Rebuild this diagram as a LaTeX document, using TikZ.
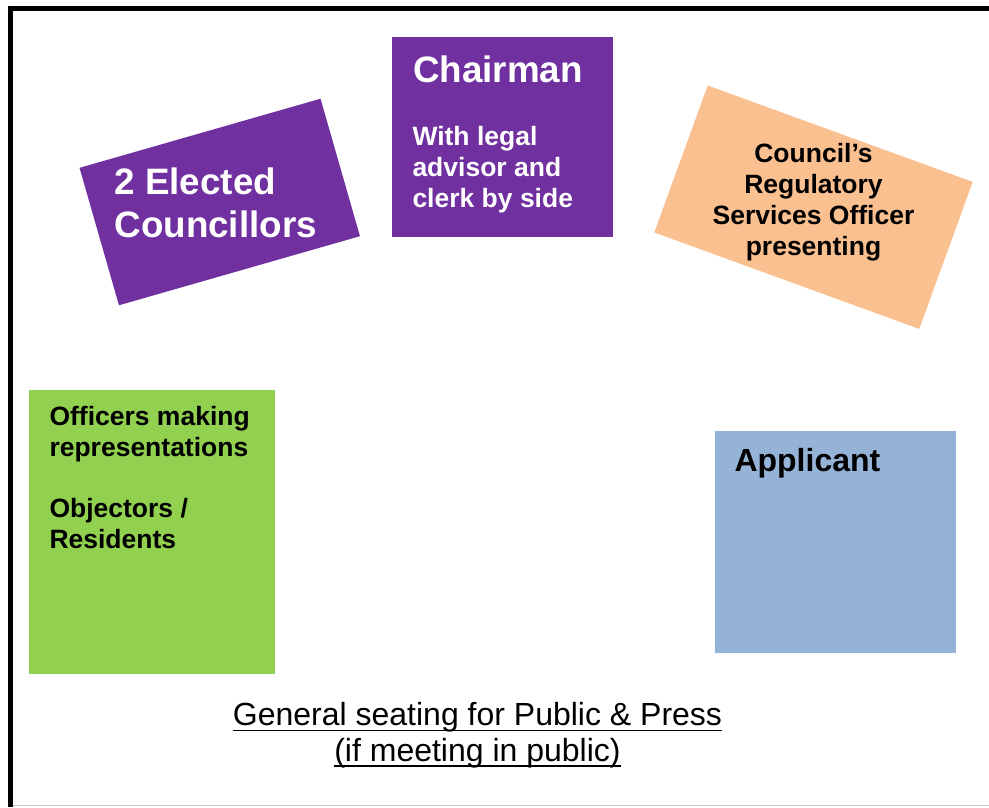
\documentclass[tikz,border=0pt]{standalone}
\usepackage{fontspec}
\setmainfont{Liberation Sans}
\definecolor{cpurple}{HTML}{7030A0}
\definecolor{corange}{HTML}{FAC090}
\definecolor{cgreen}{HTML}{92D050}
\definecolor{cblue}{HTML}{95B3D7}
\definecolor{cedge}{HTML}{C8C8C8}
\begin{document}
\begin{tikzpicture}[x=1pt,y=-1pt,
  seat/.style={inner sep=0pt, outer sep=0pt, draw=none},
  bigtxt/.style={inner sep=0pt, anchor=base west, font=\fontsize{36.8}{43}\selectfont\bfseries},
  midtxt/.style={inner sep=0pt, anchor=base west, font=\fontsize{26.5}{31}\selectfont\bfseries},
  midc/.style={inner sep=0pt, anchor=base, font=\fontsize{26.5}{31}\selectfont\bfseries},
  apptxt/.style={inner sep=0pt, anchor=base west, font=\fontsize{32}{38}\selectfont\bfseries},
  pubtxt/.style={inner sep=0pt, anchor=base, font=\fontsize{32}{38}\selectfont},
  uline/.style={line width=1.6pt}]
\useasboundingbox (0,0) rectangle (989,807);
% frame
\coordinate (fbl) at (10.7,807);
\coordinate (ftl) at (10.7,8.5);
\coordinate (ftr) at (989,8.5);
\coordinate (gbl) at (13,805.6);
\coordinate (gbr) at (989,805.6);
\draw[line width=5pt] (fbl) -- (ftl) -- (ftr);
\draw[cedge, line width=1.5pt] (gbl) -- (gbr);
% seats
\node[seat, fill=cpurple, minimum width=250.7pt, minimum height=143pt, rotate=16] (councillors) at (219.75,202) {};
\node[seat, fill=cpurple, minimum width=221pt, minimum height=200pt] (chair) at (502.5,137) {};
\node[seat, fill=corange, minimum width=282pt, minimum height=156.4pt, rotate=-20] (officer) at (813.5,207.2) {};
\node[seat, fill=cgreen, minimum width=246pt, minimum height=284pt] (objectors) at (152,532) {};
\node[seat, fill=cblue, minimum width=241pt, minimum height=222pt] (applicant) at (835.5,542) {};
% councillors text
\node[bigtxt, text=white] (c1) at (114.3,194) {2 Elected};
\node[bigtxt, text=white] (c2) at (114.3,237) {Councillors};
% chairman text
\node[bigtxt, text=white] (h1) at (413,82.7) {Chairman};
\node[midtxt, text=white] (h2) at (412.3,145) {With legal};
\node[midtxt, text=white] (h3) at (412.3,176) {advisor and};
\node[midtxt, text=white] (h4) at (412.3,207) {clerk by side};
% officer text
\node[midc] (o1) at (813.5,162.7) {Council’s};
\node[midc] (o2) at (813.5,193.6) {Regulatory};
\node[midc] (o3) at (813.5,224.5) {Services Officer};
\node[midc] (o4) at (813.5,255.4) {presenting};
% objectors text
\node[midtxt] (r1) at (49.3,425) {Officers making};
\node[midtxt] (r2) at (49.3,456) {representations};
\node[midtxt] (r3) at (49.3,517) {Objectors /};
\node[midtxt] (r4) at (49.3,548) {Residents};
% applicant text
\node[apptxt] (a1) at (734.3,471.7) {Applicant};
% public seating
\node[pubtxt] (p1) at (477.5,725.5) {General seating for Public \& Press};
\node[pubtxt] (p2) at (477.5,761) {(if meeting in public)};
\draw[uline] ([yshift=-5pt]p1.base west) -- ([yshift=-5pt]p1.base east);
\draw[uline] ([yshift=-5pt]p2.base west) -- ([yshift=-5pt]p2.base east);
\end{tikzpicture}
\end{document}
